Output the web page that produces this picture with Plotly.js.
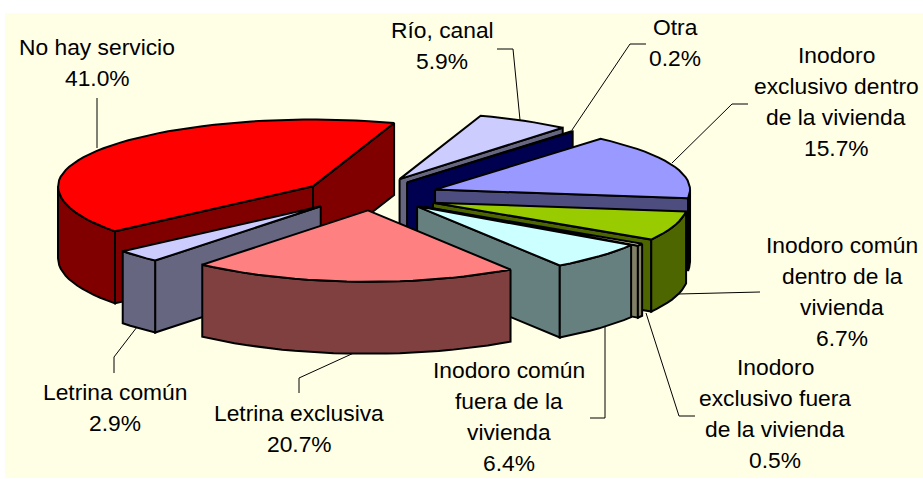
<!DOCTYPE html>
<html><head><meta charset="utf-8">
<script src="https://cdn.plot.ly/plotly-3.0.1.min.js"></script>
<style>html,body{margin:0;padding:0;background:#fff}#c{width:923px;height:479px}</style>
</head><body><div id="c"></div>
<script>
// --- data, clockwise from the first slice ---
const sliceNames = ["Inodoro exclusivo dentro de la vivienda","Inodoro común dentro de la vivienda","Inodoro exclusivo fuera de la vivienda","Inodoro común fuera de la vivienda","Letrina exclusiva","Letrina común","No hay servicio","Río, canal","Otra"];
const sliceValues = [15.7,6.7,0.5,6.4,20.7,2.9,41.0,5.9,0.2];
const labelLines = [["Inodoro","exclusivo dentro","de la vivienda"],["Inodoro común","dentro de la","vivienda"],["Inodoro","exclusivo fuera","de la vivienda"],["Inodoro común","fuera de la","vivienda"],["Letrina exclusiva"],["Letrina común"],["No hay servicio"],["Río, canal"],["Otra"]];
const topColors = ["#9999FF","#99CC00","#FFFFCC","#CCFFFF","#FF8080","#CCCCFF","#FF0000","#CCCCFF","#000080"];
const sideColors = ["#4D4D80","#4D6600","#808066","#668080","#804040","#666680","#800000","#666680","#000050"];

// --- style / geometry constants ---
const W=923,H=479;
const startAngle=40.5, CX=371, CY=193, R=255, K_FRONT=0.28, K_BACK=0.262, DEPTH=72, EXPLODE=73;
const drawOrder=[7,8,6,0,1,2,3,5,4];
const apexNudge=[[-4,4],[-7,3],[-9,3],[-6,-1],[1,-3],[2,-1],[2,5],[-7,4],[-11,5]];
const labelCenter=[[836,55],[842,245],[775,367],[509,370],[299,413],[115,392],[97,47],[442,30],[675,27]];
const LINE=31;
const leaders=[[[748,104],[732,104],[672,163]],[[760,292],[678,294]],[[695,416],[679,416],[646,313]],[[590,418],[605,418],[605,327]],[[299,393],[299,378],[356,352]],[[114,373],[114,357],[137,327]],[[97,98],[97,148]],[[497,49],[513,49],[520,120]],[[646,44],[630,44],[572,130]]];

const rad=d=>d*Math.PI/180;
const total=sliceValues.reduce((a,b)=>a+b,0);
let acc=startAngle;
const slices=sliceValues.map(v=>{const a=acc,b=acc+v/total*360;acc=b;return{a,b};});

function poly(color,pts){return{type:'scatter',mode:'lines',x:pts.map(p=>p[0]),y:pts.map(p=>p[1]),fill:'toself',fillcolor:color,line:{color:'#000',width:2,shape:'linear'},hoverinfo:'skip',showlegend:false};}
const traces=[];
drawOrder.forEach(i=>{
  const s=slices[i],mid=(s.a+s.b)/2;
  const ax=CX+EXPLODE*Math.sin(rad(mid))+apexNudge[i][0], ay=CY-EXPLODE*K_FRONT*Math.cos(rad(mid))+apexNudge[i][1];
  const P=t=>{const c=Math.cos(rad(t));return[ax+R*Math.sin(rad(t)),ay-R*(c>0?K_BACK:K_FRONT)*c];};
  const down=p=>[p[0],p[1]+DEPTH];
  const arc=(f,t)=>{const n=Math.max(2,Math.ceil((t-f)/3)),o=[];for(let j=0;j<=n;j++)o.push(P(f+(t-f)*j/n));return o;};
  const A=[ax,ay];
  // radial faces that look at the viewer
  if(Math.sin(rad(s.a))<0){const e=P(s.a);traces.push(poly(sideColors[i],[A,e,down(e),down(A),A]));}
  if(Math.sin(rad(s.b))>0){const e=P(s.b);traces.push(poly(sideColors[i],[A,e,down(e),down(A),A]));}
  // outer wall
  const lo=Math.max(s.a,90),hi=Math.min(s.b,270);
  if(hi>lo){const top=arc(lo,hi);const pts=top.concat(top.slice().reverse().map(down));pts.push(top[0]);traces.push(poly(sideColors[i],pts));}
  // top
  const t=[A].concat(arc(s.a,s.b));t.push(A);traces.push(poly(topColors[i],t));
});
leaders.forEach(l=>traces.unshift({type:'scatter',mode:'lines',x:l.map(p=>p[0]),y:l.map(p=>p[1]),line:{color:'#000',width:1},hoverinfo:'skip',showlegend:false}));

const annotations=[];
labelLines.forEach((lines,i)=>{
  lines.concat([sliceValues[i].toFixed(1)+'%']).forEach((txt,j)=>{
    annotations.push({x:labelCenter[i][0],y:labelCenter[i][1]+j*LINE,xref:'x',yref:'y',text:txt,showarrow:false,xanchor:'center',yanchor:'middle',font:{family:'"Liberation Sans",Arial,sans-serif',size:22.8,color:'#000'}});
  });
});
const layout={width:W,height:H,margin:{l:0,r:0,t:0,b:0},paper_bgcolor:'#fff',plot_bgcolor:'#fff',showlegend:false,
  xaxis:{range:[0,W],visible:false,fixedrange:true},yaxis:{range:[H,0],visible:false,fixedrange:true},
  shapes:[{type:'rect',layer:'below',xref:'x',yref:'y',x0:5,x1:W,y0:13,y1:478,fillcolor:'#FFFFE6',line:{width:0}}],
  annotations};
Plotly.newPlot('c',traces,layout,{displayModeBar:false,staticPlot:true});
</script></body></html>
